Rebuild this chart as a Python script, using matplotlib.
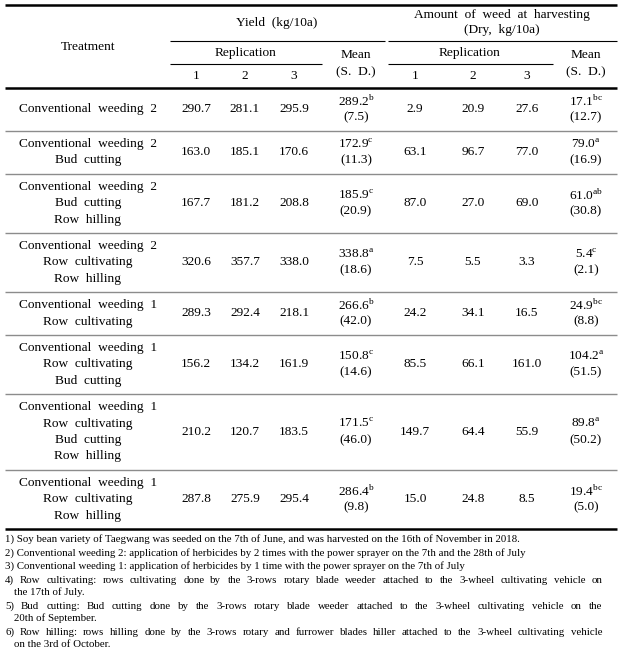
import matplotlib
matplotlib.use("Agg")
import matplotlib.pyplot as plt

plt.rcParams['font.family'] = ['Liberation Serif', 'DejaVu Serif']
plt.rcParams['mathtext.fontset'] = 'custom'
plt.rcParams['mathtext.rm'] = 'Liberation Serif'

# table data
treatments = [
    ["Conventional weeding 2"],
    ["Conventional weeding 2", "Bud cutting"],
    ["Conventional weeding 2", "Bud cutting", "Row hilling"],
    ["Conventional weeding 2", "Row cultivating", "Row hilling"],
    ["Conventional weeding 1", "Row cultivating"],
    ["Conventional weeding 1", "Row cultivating", "Bud cutting"],
    ["Conventional weeding 1", "Row cultivating", "Bud cutting", "Row hilling"],
    ["Conventional weeding 1", "Row cultivating", "Row hilling"],
]
yield_rep1 = [290.7, 163.0, 167.7, 320.6, 289.3, 156.2, 210.2, 287.8]
yield_rep2 = [281.1, 185.1, 181.2, 357.7, 292.4, 134.2, 120.7, 275.9]
yield_rep3 = [295.9, 170.6, 208.8, 338.0, 218.1, 161.9, 183.5, 295.4]
yield_mean = [289.2, 172.9, 185.9, 338.8, 266.6, 150.8, 171.5, 286.4]
yield_sd = [7.5, 11.3, 20.9, 18.6, 42.0, 14.6, 46.0, 9.8]
yield_sig = ['b', 'c', 'c', 'a', 'b', 'c', 'c', 'b']
weed_rep1 = [2.9, 63.1, 87.0, 7.5, 24.2, 85.5, 149.7, 15.0]
weed_rep2 = [20.9, 96.7, 27.0, 5.5, 34.1, 66.1, 64.4, 24.8]
weed_rep3 = [27.6, 77.0, 69.0, 3.3, 16.5, 161.0, 55.9, 8.5]
weed_mean = [17.1, 79.0, 61.0, 5.4, 24.9, 104.2, 89.8, 19.4]
weed_sd = [12.7, 16.9, 30.8, 2.1, 8.8, 51.5, 50.2, 5.0]
weed_sig = ['bc', 'a', 'ab', 'c', 'bc', 'a', 'a', 'bc']

footnotes = [
    "1) Soy bean variety of Taegwang was seeded on the 7th of June, and was harvested on the 16th of November in 2018.",
    "2) Conventional weeding 2: application of herbicides by 2 times with the power sprayer on the 7th and the 28th of July",
    "3) Conventional weeding 1: application of herbicides by 1 time with the power sprayer on the 7th of July",
    "4) Row cultivating: rows cultivating done by the 3-rows rotary blade weeder attached to the 3-wheel cultivating vehicle on\nthe 17th of July.",
    "5) Bud cutting: Bud cutting done by the 3-rows rotary blade weeder attached to the 3-wheel cultivating vehicle on the\n20th of September.",
    "6) Row hilling: rows hilling done by the 3-rows rotary and furrower blades hiller attached to the 3-wheel cultivating vehicle\non the 3rd of October.",
]

W, H = 625, 657
fig = plt.figure(figsize=(W / 100, H / 100), dpi=100)
ax = fig.add_axes([0, 0, 1, 1])
ax.set_xlim(0, W)
ax.set_ylim(H, 0)
ax.axis('off')
renderer = fig.canvas.get_renderer()

FS = 9.6
FN = 7.8
LEFT, RIGHT = 5, 617
x_treat = 88
x_yield = [196, 245, 294, 356]
x_weed = [415, 473, 527, 586]


def hline(y, x0=LEFT, x1=RIGHT, lw=0.8, color='black'):
    ax.plot([x0, x1], [y, y], color=color, lw=lw, solid_capstyle='butt')


def txt(x, y, s, size=FS, ha='center'):
    return ax.text(x, y, s, fontsize=size, ha=ha, va='center')


def justified(x0, x1, y, s, size):
    # place words one by one so the line fills x0..x1
    words = s.split(" ")
    objs = [ax.text(0, y, w, fontsize=size, ha='left', va='center') for w in words]
    widths = [o.get_window_extent(renderer).width for o in objs]
    gap = (x1 - x0 - sum(widths)) / (len(words) - 1)
    x = x0
    for o, w in zip(objs, widths):
        o.set_x(x)
        x += w + gap


# header
hline(5, lw=1.8)
txt(x_treat, 47, "Treatment")
txt(277, 23, "Yield  (kg/10a)")
txt(502, 15, "Amount  of  weed  at  harvesting")
txt(502, 30, "(Dry,  kg/10a)")
hline(41, 170, 385)
hline(41, 388, RIGHT)
txt(246, 53, "Replication")
txt(470, 53, "Replication")
hline(64, 170, 322)
hline(64, 388, 553)
for i in range(3):
    txt(x_yield[i], 76, str(i + 1))
    txt(x_weed[i], 76, str(i + 1))
for xm in (x_yield[3], x_weed[3]):
    txt(xm, 55, "Mean")
    txt(xm, 72, "(S.  D.)")
hline(88, lw=1.8)

# body rows
y = 88
line_h = 16.4
for r, tr in enumerate(treatments):
    n = max(len(tr), 2)
    h = 10 + line_h * n
    yc = y + h / 2
    for k, s in enumerate(tr):
        txt(x_treat, yc + (k - (len(tr) - 1) / 2) * line_h, s.replace(" ", "  "))
    for xi, vals in zip(x_yield[:3], (yield_rep1, yield_rep2, yield_rep3)):
        txt(xi, yc, f"{vals[r]:.1f}")
    for xi, vals in zip(x_weed[:3], (weed_rep1, weed_rep2, weed_rep3)):
        txt(xi, yc, f"{vals[r]:.1f}")
    for xm, m, sd, sig in ((x_yield[3], yield_mean, yield_sd, yield_sig),
                           (x_weed[3], weed_mean, weed_sd, weed_sig)):
        txt(xm, yc - line_h / 2, f"{m[r]:.1f}" + r"$^{\mathrm{" + sig[r] + "}}$")
        txt(xm, yc + line_h / 2, f"({sd[r]:.1f})")
    y += h
    if r < len(treatments) - 1:
        hline(y, lw=1.0, color='#8c8c8c')
hline(y, lw=1.8)

# footnotes
fy = y + 10
for note in footnotes:
    parts = note.split("\n")
    for j, p in enumerate(parts):
        if j < len(parts) - 1:
            justified(LEFT, 602, fy, p, FN)
        else:
            ax.text(LEFT if j == 0 else 14, fy, p, fontsize=FN, ha='left', va='center')
        fy += 12.2 if j < len(parts) - 1 else 13.8

fig.savefig("out.png", dpi=100)
